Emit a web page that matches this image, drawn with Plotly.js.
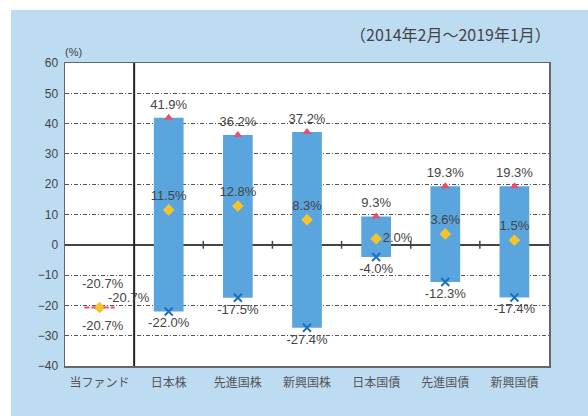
<!DOCTYPE html>
<html>
<head>
<meta charset="utf-8">
<script src="https://cdn.plot.ly/plotly-3.0.1.min.js"></script>
<style>
  html, body { margin: 0; padding: 0; background: #ffffff; width: 588px; height: 416px; overflow: hidden; }
  #chart { position: absolute; left: 11px; top: 10px; width: 577px; height: 406px; }
</style>
</head>
<body>
<div id="chart"></div>
<script>
// ---- data ----
var categories = ["当ファンド", "日本株", "先進国株", "新興国株", "日本国債", "先進国債", "新興国債"];
var maxVals = [-20.7, 41.9, 36.2, 37.2, 9.3, 19.3, 19.3];
var avgVals = [-20.7, 11.5, 12.8, 8.3, 2.0, 3.6, 1.5];
var minVals = [-20.7, -22.0, -17.5, -27.4, -4.0, -12.3, -17.4];
var yTickVals = [-40, -30, -20, -10, 0, 10, 20, 30, 40, 50, 60];
var subtitle = "（2014年2月～2019年1月）";
var unitLabel = "(%)";

function pct(v) { return v.toFixed(1) + "%"; }

var numFont = "Liberation Sans Narrow, Liberation Sans, Arial, sans-serif";
var valFont = {family: "Liberation Sans, Arial, sans-serif", size: 13, color: "#444"};

var assetCats = categories.slice(1);
var assetMax = maxVals.slice(1);
var assetAvg = avgVals.slice(1);
var assetMin = minVals.slice(1);

var bars = {
  type: "bar",
  x: assetCats,
  base: assetMin,
  y: assetMax.map(function (v, i) { return v - assetMin[i]; }),
  width: 0.43,
  marker: {color: "#5ba5de", line: {width: 0}},
  hoverinfo: "skip",
  showlegend: false
};

var maxTrace = {
  type: "scatter", mode: "markers+text",
  x: assetCats, y: assetMax,
  text: assetMax.map(pct), textposition: "top center",
  textfont: valFont,
  marker: {symbol: "triangle-up", size: 8, color: "#e8506e"},
  cliponaxis: false, showlegend: false
};

var avgPositions = assetAvg.map(function (v, i) { return assetCats[i] === "日本国債" ? "middle right" : "top center"; });
var avgTrace = {
  type: "scatter", mode: "markers+text",
  x: assetCats, y: assetAvg,
  text: assetAvg.map(pct), textposition: avgPositions,
  textfont: valFont,
  marker: {symbol: "diamond", size: 9, color: "#f6c42a"},
  cliponaxis: false, showlegend: false
};

var minTrace = {
  type: "scatter", mode: "markers+text",
  x: assetCats, y: assetMin,
  text: assetMin.map(pct), textposition: "bottom center",
  textfont: valFont,
  marker: {symbol: "x-thin-open", size: 8, color: "#1e6fbf", line: {width: 2, color: "#1e6fbf"}},
  cliponaxis: false, showlegend: false
};

var fundTrace = {
  type: "scatter", mode: "markers",
  x: [categories[0]], y: [avgVals[0]],
  marker: {symbol: "diamond", size: 9, color: "#f6c42a"},
  cliponaxis: false, showlegend: false
};

var nCat = categories.length;
var fundCenter = 0.5 / nCat;  // paper position of first category centre
var segOuter = 0.22 / nCat, segInner = 0.06 / nCat;

var shapes = [
  // separator between fund and assets
  {type: "line", xref: "paper", yref: "paper", x0: 1 / nCat, x1: 1 / nCat, y0: 0, y1: 1, line: {color: "#222", width: 2}},
  // fund dashed reference line (two sides of the marker)
  {type: "line", xref: "paper", yref: "y", x0: fundCenter - segOuter, x1: fundCenter - segInner, y0: avgVals[0], y1: avgVals[0], line: {color: "#e8506e", width: 2, dash: "5px,2px"}, layer: "above"},
  {type: "line", xref: "paper", yref: "y", x0: fundCenter + segInner, x1: fundCenter + segOuter, y0: avgVals[0], y1: avgVals[0], line: {color: "#e8506e", width: 2, dash: "5px,2px"}, layer: "above"}
];
for (var k = 2; k < nCat; k++) {
  shapes.push({type: "line", xref: "paper", yref: "y", x0: k / nCat, x1: k / nCat, y0: -1.3, y1: 1.3, line: {color: "#444", width: 1.5}});
}

var annotations = [
  {xref: "paper", yref: "paper", x: 1, y: 1, xanchor: "right", yanchor: "middle", yshift: 29, xshift: 4, showarrow: false,
   text: subtitle, font: {family: "Noto Sans CJK JP, sans-serif", size: 16, color: "#444"}},
  {xref: "paper", yref: "paper", x: 0, y: 1, xanchor: "left", yanchor: "bottom", yshift: 3, xshift: -2, showarrow: false,
   text: unitLabel, font: {family: numFont, size: 11, color: "#444"}},
  {xref: "x", yref: "y", x: categories[0], y: maxVals[0], yshift: 24, xshift: 3, showarrow: false, text: pct(maxVals[0]), font: valFont},
  {xref: "x", yref: "y", x: categories[0], y: avgVals[0], yshift: 10, xshift: 29, showarrow: false, text: pct(avgVals[0]), font: valFont},
  {xref: "x", yref: "y", x: categories[0], y: minVals[0], yshift: -18, xshift: 3, showarrow: false, text: pct(minVals[0]), font: valFont}
];

var layout = {
  width: 577, height: 406,
  margin: {l: 54, r: 39, t: 53, b: 50, pad: 0},
  paper_bgcolor: "#bddcf2",
  plot_bgcolor: "#ffffff",
  showlegend: false,
  barmode: "overlay",
  xaxis: {
    type: "category", categoryorder: "array", categoryarray: categories,
    range: [-0.5, nCat - 0.5],
    showgrid: false, zeroline: false,
    showline: true, mirror: true, linecolor: "#666", linewidth: 1.5,
    ticks: "", ticklabelstandoff: 5,
    tickfont: {family: "Noto Sans CJK JP, sans-serif", size: 12, color: "#555"},
    fixedrange: true
  },
  yaxis: {
    range: [-40, 60], tickvals: yTickVals,
    showgrid: true, gridcolor: "#555", gridwidth: 1, griddash: "4px,2px,1px,2px",
    zeroline: true, zerolinecolor: "#444", zerolinewidth: 1.5,
    showline: true, mirror: true, linecolor: "#666", linewidth: 1.5,
    ticks: "", ticklabelstandoff: 3,
    tickfont: {family: numFont, size: 12, color: "#444"},
    fixedrange: true
  },
  shapes: shapes,
  annotations: annotations
};

Plotly.newPlot("chart", [bars, maxTrace, avgTrace, minTrace, fundTrace], layout, {displayModeBar: false, staticPlot: true});
</script>
</body>
</html>
